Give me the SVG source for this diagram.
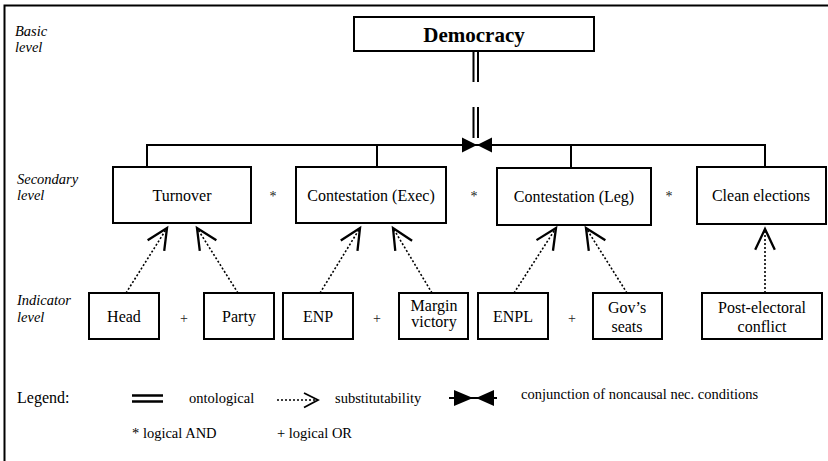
<svg xmlns="http://www.w3.org/2000/svg" width="828" height="461" viewBox="0 0 828 461">
<defs>
<style>
text{font-family:"Liberation Serif","Times New Roman",serif;fill:#000}
.box{fill:#fff;stroke:#000;stroke-width:2}
.lbl{font-size:16px;text-anchor:middle}
.lvl{font-size:14.5px;font-style:italic}
.leg{font-size:14.5px}
.op{font-size:14px;text-anchor:middle;fill:#222}
.ln{stroke:#000;stroke-width:2;fill:none}
.dot{stroke:#000;stroke-width:1.6;fill:none;stroke-dasharray:2 2}
</style>
<marker id="vopen" markerUnits="userSpaceOnUse" markerWidth="30" markerHeight="30" viewBox="-22 -12 26 24" refX="0" refY="0" orient="auto">
<path d="M-18,-8.5 L0,0 L-18,8.5" fill="none" stroke="#000" stroke-width="2"/>
</marker>
</defs>
<rect width="828" height="461" fill="#fff"/>
<path d="M4.5,461 V5.5 H828" class="ln" stroke-width="1.5"/>

<g id="levels">
<text class="lvl" x="15" y="36">Basic</text>
<text class="lvl" x="15" y="52">level</text>
<text class="lvl" x="17" y="184">Secondary</text>
<text class="lvl" x="17" y="200">level</text>
<text class="lvl" x="17" y="305">Indicator</text>
<text class="lvl" x="17" y="322">level</text>
</g>

<g id="connectors">
<path class="ln" d="M473.5,51 V82 M478,51 V82 M473.5,107 V138 M478,107 V138"/>
<path class="ln" d="M147,167 V145 H765 V167 M377,145 V167 M571,145 V167"/>
<path d="M462,137.5 L477,145 L462,152.5 Z M492,137.5 L477,145 L492,152.5 Z" fill="#000"/>
<line class="dot" x1="126" y1="293" x2="167" y2="228" marker-end="url(#vopen)"/>
<line class="dot" x1="238" y1="293" x2="197" y2="228" marker-end="url(#vopen)"/>
<line class="dot" x1="320" y1="293" x2="360" y2="228" marker-end="url(#vopen)"/>
<line class="dot" x1="432" y1="293" x2="393" y2="228" marker-end="url(#vopen)"/>
<line class="dot" x1="514" y1="293" x2="556" y2="228" marker-end="url(#vopen)"/>
<line class="dot" x1="627" y1="293" x2="586" y2="228" marker-end="url(#vopen)"/>
<line class="dot" x1="765" y1="293" x2="765" y2="229" marker-end="url(#vopen)"/>
</g>

<g id="democracy">
<rect class="box" x="354" y="17" width="240" height="34"/>
<text x="474" y="42" font-size="21" font-weight="bold" text-anchor="middle">Democracy</text>
</g>

<g id="turnover">
<rect class="box" x="113" y="167" width="138" height="56"/>
<text class="lbl" x="182" y="201">Turnover</text>
</g>
<g id="contestation-exec">
<rect class="box" x="296" y="167" width="150" height="56"/>
<text class="lbl" x="371" y="201">Contestation (Exec)</text>
</g>
<g id="contestation-leg">
<rect class="box" x="497" y="168" width="154" height="57"/>
<text class="lbl" x="574" y="202">Contestation (Leg)</text>
</g>
<g id="clean-elections">
<rect class="box" x="697" y="167" width="129" height="57"/>
<text class="lbl" x="761" y="201">Clean elections</text>
</g>

<g id="ops">
<text class="op" x="273" y="201">*</text>
<text class="op" x="474" y="201">*</text>
<text class="op" x="669" y="201">*</text>
<text class="op" x="184" y="323">+</text>
<text class="op" x="377" y="323">+</text>
<text class="op" x="572" y="323">+</text>
</g>

<g id="head">
<rect class="box" x="89" y="293" width="70" height="46"/>
<text class="lbl" x="124" y="322">Head</text>
</g>
<g id="party">
<rect class="box" x="204" y="293" width="70" height="46"/>
<text class="lbl" x="239" y="322">Party</text>
</g>
<g id="enp">
<rect class="box" x="283" y="293" width="70" height="46"/>
<text class="lbl" x="318" y="322">ENP</text>
</g>
<g id="margin-victory">
<rect class="box" x="399" y="293" width="69" height="46"/>
<text class="lbl" x="434" y="311">Margin</text>
<text class="lbl" x="434" y="327">victory</text>
</g>
<g id="enpl">
<rect class="box" x="478" y="293" width="70" height="46"/>
<text class="lbl" x="513" y="322">ENPL</text>
</g>
<g id="govs-seats">
<rect class="box" x="593" y="293" width="69" height="46"/>
<text class="lbl" x="627" y="313">Gov’s</text>
<text class="lbl" x="627" y="332">seats</text>
</g>
<g id="post-electoral">
<rect class="box" x="702" y="293" width="120" height="46"/>
<text class="lbl" x="762" y="313">Post-electoral</text>
<text class="lbl" x="762" y="332">conflict</text>
</g>

<g id="legend">
<text x="17" y="403" font-size="16">Legend:</text>
<path d="M132,395.5 H163 M132,401.5 H163" stroke="#000" stroke-width="2.5" fill="none"/>
<text class="leg" x="189" y="403">ontological</text>
<path d="M277,400 H316" class="dot" stroke-width="1.4"/>
<path d="M304,393 L318,400 L304,407.5" fill="none" stroke="#000" stroke-width="1.8"/>
<text class="leg" x="335" y="403">substitutability</text>
<path d="M449,398 H497" stroke="#000" stroke-width="2"/>
<path d="M454,390 L473,398 L454,406 Z M494,390 L476,398 L494,406 Z" fill="#000"/>
<text class="leg" x="521" y="399">conjunction of noncausal nec. conditions</text>
<text class="leg" x="132" y="438">* logical AND</text>
<text class="leg" x="277" y="438">+ logical OR</text>
</g>
</svg>
